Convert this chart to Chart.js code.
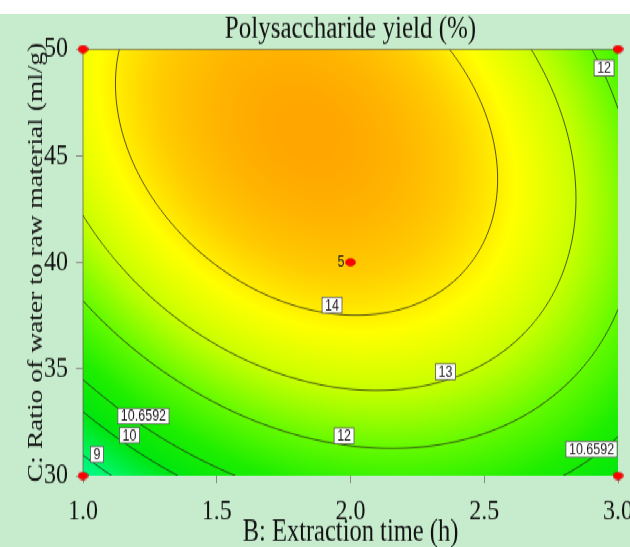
<!DOCTYPE html>
<html>
<head>
<meta charset="utf-8">
<script src="https://cdn.jsdelivr.net/npm/chart.js@4"></script>
<style>
  html, body { margin: 0; padding: 0; background: #fff; }
  /* the reference is stretched vertically, so draw flat and scale the box */
  #wrap {
    position: absolute; left: 0; top: 14px;
    width: 630px; height: 426px;
    background: #c7eccd;
    transform: scaleY(1.2512); transform-origin: 0 0;
  }
</style>
</head>
<body>
<div id="wrap"><canvas id="contour"></canvas></div>
<script>
// axes
const xTicks = [1.0, 1.5, 2.0, 2.5, 3.0];
const yTicks = [30, 35, 40, 45, 50];

// design points (B, C) and replicate count at the centre
const designB = [1, 1, 3, 3, 2];
const designC = [30, 50, 50, 30, 40];
const centreReps = '5';

// quadratic model in coded units, estimated from the contours:
// intercept, B, C, BC, B^2, C^2
const modelCoefs = [14.496, -0.138, 1.645, -0.914, -2.126, -1.463];
const contourLevels = [9, 10, 10.6592, 12, 13, 14];

// contour labels
const labelText = ['12', '14', '13', '12', '10.6592', '10.6592', '10', '9'];
const labelB = [2.948, 1.931, 2.355, 1.976, 2.901, 1.226, 1.174, 1.052];
const labelC = [49.11, 37.99, 34.87, 31.87, 31.24, 32.79, 31.9, 31.0];

// colour ramp
const rampValues = [8.0, 9.0, 10.0, 11.0, 12.0, 13.0, 13.8, 14.4, 15.1];
const rampColors = [
    [0, 255, 185], [0, 245, 105], [0, 230, 15], [30, 238, 0], [100, 250, 0],
    [200, 255, 0], [255, 255, 0], [255, 205, 0], [255, 160, 0]
];

function yieldAt(b, c) {
    const x = b - 2, y = (c - 40) / 10;
    const k = modelCoefs;
    return k[0] + k[1] * x + k[2] * y + k[3] * x * y + k[4] * x * x + k[5] * y * y;
}

function colorFor(v) {
    if (v <= rampValues[0]) return rampColors[0];
    for (let i = 1; i < rampValues.length; i++) {
        if (v <= rampValues[i]) {
            const t = (v - rampValues[i - 1]) / (rampValues[i] - rampValues[i - 1]);
            const a = rampColors[i - 1], b = rampColors[i];
            return [a[0] + (b[0] - a[0]) * t, a[1] + (b[1] - a[1]) * t, a[2] + (b[2] - a[2]) * t];
        }
    }
    return rampColors[rampColors.length - 1];
}

// red ellipse marker
const dot = document.createElement('canvas');
dot.width = 11; dot.height = 7;
(() => {
    const c = dot.getContext('2d');
    c.beginPath();
    c.ellipse(5.5, 3.5, 5, 3, 0, 0, Math.PI * 2);
    c.fillStyle = '#ff0000';
    c.fill();
    c.strokeStyle = '#c00000';
    c.lineWidth = 0.6;
    c.stroke();
})();

const surfacePlugin = {
    id: 'surface',
    beforeDraw(chart) {
        const {ctx, chartArea: a, scales: {x, y}} = chart;
        const w = Math.round(a.right - a.left), h = Math.round(a.bottom - a.top);

        // filled colour field
        const off = document.createElement('canvas');
        off.width = w; off.height = h;
        const octx = off.getContext('2d');
        const img = octx.createImageData(w, h);
        for (let j = 0; j < h; j++) {
            const c = y.getValueForPixel(a.top + j + 0.5);
            for (let i = 0; i < w; i++) {
                const b = x.getValueForPixel(a.left + i + 0.5);
                const col = colorFor(yieldAt(b, c));
                const p = (j * w + i) * 4;
                img.data[p] = col[0]; img.data[p + 1] = col[1]; img.data[p + 2] = col[2]; img.data[p + 3] = 255;
            }
        }
        octx.putImageData(img, 0, 0);
        ctx.drawImage(off, a.left, a.top, a.right - a.left, a.bottom - a.top);

        // contour lines, marching squares
        const step = 2;
        const nx = Math.ceil((a.right - a.left) / step), ny = Math.ceil((a.bottom - a.top) / step);
        const px = i => Math.min(a.left + i * step, a.right);
        const py = j => Math.min(a.top + j * step, a.bottom);
        const grid = [];
        for (let j = 0; j <= ny; j++) {
            const row = [];
            for (let i = 0; i <= nx; i++) row.push(yieldAt(x.getValueForPixel(px(i)), y.getValueForPixel(py(j))));
            grid.push(row);
        }
        ctx.save();
        ctx.beginPath();
        ctx.rect(a.left, a.top, a.right - a.left, a.bottom - a.top);
        ctx.clip();
        ctx.strokeStyle = 'rgba(35,35,25,0.85)';
        ctx.lineWidth = 0.9;
        contourLevels.forEach(lv => {
            ctx.beginPath();
            for (let j = 0; j < ny; j++) {
                for (let i = 0; i < nx; i++) {
                    const c = [[px(i), py(j), grid[j][i]], [px(i + 1), py(j), grid[j][i + 1]],
                               [px(i + 1), py(j + 1), grid[j + 1][i + 1]], [px(i), py(j + 1), grid[j + 1][i]]];
                    const pts = [];
                    for (let e = 0; e < 4; e++) {
                        const p = c[e], q = c[(e + 1) % 4];
                        if ((p[2] - lv) * (q[2] - lv) < 0) {
                            const t = (lv - p[2]) / (q[2] - p[2]);
                            pts.push([p[0] + (q[0] - p[0]) * t, p[1] + (q[1] - p[1]) * t]);
                        }
                    }
                    for (let k = 0; k + 1 < pts.length; k += 2) {
                        ctx.moveTo(pts[k][0], pts[k][1]);
                        ctx.lineTo(pts[k + 1][0], pts[k + 1][1]);
                    }
                }
            }
            ctx.stroke();
        });
        ctx.restore();

        // plot frame
        ctx.save();
        ctx.strokeStyle = 'rgba(90,90,70,0.7)';
        ctx.lineWidth = 1;
        ctx.beginPath();
        ctx.moveTo(a.left, a.bottom); ctx.lineTo(a.left, a.top + 0.5); ctx.lineTo(a.right, a.top + 0.5);
        ctx.stroke();
        ctx.restore();
    },
    beforeDatasetsDraw(chart) {
        const {ctx, scales: {x, y}} = chart;
        ctx.save();
        ctx.font = '12.5px "Liberation Sans", Arial, sans-serif';
        ctx.textAlign = 'center';
        ctx.textBaseline = 'middle';
        labelText.forEach((t, i) => {
            const cx = x.getPixelForValue(labelB[i]), cy = y.getPixelForValue(labelC[i]);
            const w = ctx.measureText(t).width + 6, h = 12.5;
            ctx.fillStyle = '#ffffff';
            ctx.fillRect(cx - w / 2, cy - h / 2, w, h);
            ctx.strokeStyle = '#555';
            ctx.lineWidth = 0.8;
            ctx.strokeRect(cx - w / 2, cy - h / 2, w, h);
            ctx.fillStyle = '#222';
            ctx.fillText(t, cx, cy + 0.5);
        });
        // replicate count beside the centre point
        ctx.textAlign = 'right';
        ctx.fillStyle = '#222';
        ctx.fillText(centreReps, x.getPixelForValue(designB[4]) - 6, y.getPixelForValue(designC[4]));
        ctx.restore();
    }
};

const serif = '"Liberation Serif", "Times New Roman", serif';
const tickGrid = { drawOnChartArea: false, drawTicks: true, tickLength: 7, color: '#8a8a8a' };

new Chart(document.getElementById('contour'), {
    type: 'scatter',
    data: {
        datasets: [{
            data: designB.map((b, i) => ({ x: b, y: designC[i] })),
            pointStyle: dot,
            pointRadius: 5,
            clip: false
        }]
    },
    options: {
        responsive: true,
        maintainAspectRatio: false,
        animation: false,
        layout: { padding: { left: 0, right: 12, top: 0, bottom: 0 } },
        plugins: {
            legend: { display: false },
            tooltip: { enabled: false },
            title: {
                display: true,
                text: 'Polysaccharide yield (%)',
                fullSize: false,
                color: '#111',
                font: { family: serif, size: 25, weight: 'normal', lineHeight: 1 },
                padding: { top: 0, bottom: 3 }
            }
        },
        scales: {
            x: {
                type: 'linear', min: 1, max: 3,
                afterBuildTicks: s => { s.ticks = xTicks.map(v => ({ value: v })); },
                afterFit: s => { s.height = 57; s.paddingLeft = 0; s.paddingRight = 0; },
                grid: { ...tickGrid, tickLength: 6 },
                border: { display: false },
                ticks: {
                    padding: 8, color: '#111', maxRotation: 0,
                    font: { family: serif, size: 24 },
                    callback: v => v.toFixed(1)
                },
                title: {
                    display: true, text: 'B: Extraction time (h)', color: '#111',
                    font: { family: serif, size: 24.5, lineHeight: 1 },
                    padding: { top: 0, bottom: -1 }
                }
            },
            y: {
                type: 'linear', min: 30, max: 50,
                afterBuildTicks: s => { s.ticks = yTicks.map(v => ({ value: v })); },
                afterFit: s => { s.width = 83; },
                grid: tickGrid,
                border: { display: false },
                ticks: {
                    padding: 8, color: '#111',
                    font: { family: serif, size: 24 }
                },
                title: {
                    display: true, text: 'C: Ratio of water to raw material (ml/g)', color: '#111',
                    font: { family: serif, size: 22, lineHeight: 1 },
                    padding: { top: 25, bottom: 0 }
                }
            }
        }
    },
    plugins: [surfacePlugin]
});
</script>
</body>
</html>
